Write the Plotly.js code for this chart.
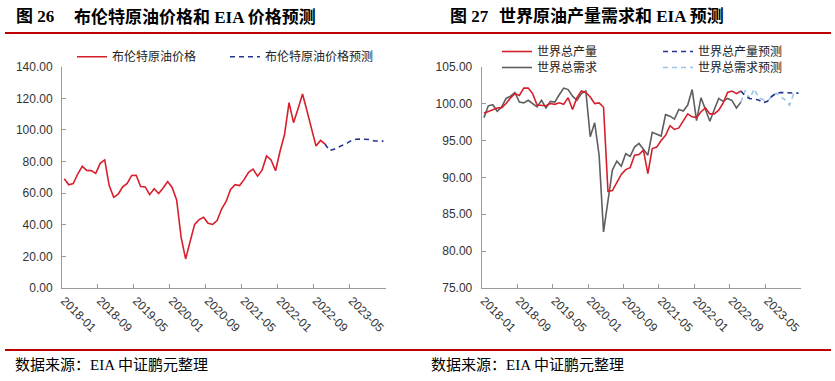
<!DOCTYPE html>
<html>
<head>
<meta charset="utf-8">
<script src="https://cdn.plot.ly/plotly-3.0.1.min.js"></script>
<style>html,body{margin:0;padding:0;background:#fff;}#chart{width:835px;height:381px;}</style>
</head>
<body>
<div id="chart"></div>
<script>
// Month categories 2018-01 .. 2023-12
var months = [];
for (var yr = 2018; yr <= 2023; yr++) {
  for (var mo = 1; mo <= 12; mo++) {
    months.push(yr + '-' + (mo < 10 ? '0' + mo : mo));
  }
}

// Left chart: Brent price (actual 2018-01..2022-11) and EIA forecast (2022-11..2023-12)
var brentActual = [
  69.08, 65.32, 66.02, 72.11, 76.98, 74.41, 74.25, 72.53, 78.89, 81.03, 64.75, 57.36,
  59.41, 63.96, 66.14, 71.23, 71.32, 64.22, 63.92, 59.04, 62.83, 59.71, 63.21, 67.31,
  63.65, 55.66, 32.01, 18.38, 29.38, 40.27, 43.24, 44.74, 40.91, 40.19, 42.69, 49.99,
  54.77, 62.28, 65.41, 64.81, 68.53, 73.16, 75.17, 70.75, 74.49, 83.54, 81.05, 74.17,
  86.51, 97.13, 117.25, 104.58, 113.34, 122.71, 111.93, 100.45, 89.76, 93.33, 91.1
];
var brentForecast = [91.1, 86.9, 87.8, 89.0, 90.3, 91.8, 93.5, 94.1, 94.2, 94.2, 93.9, 93.0, 92.9, 92.9];

// Right chart: world production / demand (actual) and EIA forecasts
var prodActual = [
  98.7, 98.96, 99.2, 99.4, 99.45, 100.0, 100.77, 101.35, 101.1, 102.1, 102.1, 101.35,
  99.8, 99.7, 99.7, 100.0, 99.9, 100.1, 99.9, 100.8, 99.2, 100.8, 101.7, 101.5,
  100.9, 100.0, 100.1, 99.5, 88.1, 88.2, 89.4, 90.4, 91.05, 91.3, 93.0, 93.1,
  93.7, 90.5, 93.9, 94.1, 95.0, 95.7, 97.0, 96.5, 96.7, 97.7, 98.6, 98.2,
  98.1, 98.9, 99.4, 98.6, 98.6, 99.1, 100.1, 101.5, 101.7, 101.35, 101.7
];
var demandActual = [
  98.1, 99.7, 99.85, 98.96, 99.55, 100.7, 101.0, 101.5, 100.2, 100.1, 100.45, 100.0,
  99.55, 100.45, 99.4, 100.3, 100.2, 101.2, 102.1, 101.9, 101.0, 100.45, 101.35, 101.7,
  95.5, 97.4, 93.0, 82.6, 87.1, 91.0, 92.2, 91.5, 93.2, 92.85, 94.1, 94.6,
  93.8, 93.0, 96.1, 95.9, 95.6, 98.5, 98.3, 97.9, 99.2, 99.0, 99.8, 101.9,
  97.7, 100.8, 99.1, 97.6, 99.2, 100.7, 100.3, 100.7, 100.4, 99.4, 100.2
];
var prodForecast = [101.7, 101.0, 100.7, 100.6, 100.5, 100.1, 100.3, 101.0, 101.4, 101.5, 101.5, 101.5, 101.5, 101.4];
var demandForecast = [100.2, 101.8, 100.6, 102.0, 100.8, 100.5, 100.3, 101.0, 101.4, 100.9, 100.5, 99.8, 101.5, 101.4];

var legendNames = ['布伦特原油价格', '布伦特原油价格预测', '世界总产量', '世界总产量预测', '世界总需求', '世界总需求预测'];

var RED = '#d71f2b', NAVY = '#23348f', GRAY = '#5e5e5e', LBLUE = '#9cc3e8';
var fcStart = brentActual.length - 1;

var traces = [
  {x: months.slice(0, brentActual.length), y: brentActual, name: legendNames[0], type: 'scatter', mode: 'lines',
   line: {color: RED, width: 1.6}, xaxis: 'x', yaxis: 'y', legend: 'legend'},
  {x: months.slice(fcStart, fcStart + brentForecast.length), y: brentForecast, name: legendNames[1], type: 'scatter', mode: 'lines',
   line: {color: NAVY, width: 1.6, dash: '5px,4px'}, xaxis: 'x', yaxis: 'y', legend: 'legend'},
  {x: months.slice(0, demandActual.length), y: demandActual, name: legendNames[4], type: 'scatter', mode: 'lines',
   line: {color: GRAY, width: 1.6}, xaxis: 'x2', yaxis: 'y2', legend: 'legend3', legendrank: 1},
  {x: months.slice(fcStart, fcStart + demandForecast.length), y: demandForecast, name: legendNames[5], type: 'scatter', mode: 'lines',
   line: {color: LBLUE, width: 1.6, dash: '5px,4px'}, xaxis: 'x2', yaxis: 'y2', legend: 'legend3', legendrank: 2},
  {x: months.slice(0, prodActual.length), y: prodActual, name: legendNames[2], type: 'scatter', mode: 'lines',
   line: {color: RED, width: 1.6}, xaxis: 'x2', yaxis: 'y2', legend: 'legend2', legendrank: 1},
  {x: months.slice(fcStart, fcStart + prodForecast.length), y: prodForecast, name: legendNames[3], type: 'scatter', mode: 'lines',
   line: {color: NAVY, width: 1.6, dash: '5px,4px'}, xaxis: 'x2', yaxis: 'y2', legend: 'legend2', legendrank: 2}
];

var W = 835, H = 381;
function px(x) { return x / W; }
function py(y) { return 1 - y / H; }

var tickFont = {family: 'Liberation Sans, Arial, sans-serif', size: 12, color: '#333'};
var legFont = {family: 'Noto Sans CJK SC, sans-serif', size: 12, color: '#222'};

function xax(d0, d1, anchor) {
  return {domain: [px(d0), px(d1)], anchor: anchor, type: 'category', range: [-0.5, 71.5],
    tickmode: 'linear', tick0: 0, dtick: 8, tickson: 'boundaries',
    ticks: 'inside', ticklen: 4, tickcolor: '#9a9a9a', tickwidth: 1,
    showline: true, linecolor: '#9a9a9a', linewidth: 1, showgrid: false, zeroline: false,
    tickangle: 45, tickfont: tickFont, fixedrange: true};
}
function yax(r, dt, anchor) {
  return {domain: [py(288), py(66.7)], anchor: anchor, range: r, dtick: dt, tick0: r[0], tickformat: '.2f',
    ticks: 'inside', ticklen: 4, tickcolor: '#9a9a9a', tickwidth: 1,
    showline: true, linecolor: '#9a9a9a', linewidth: 1, showgrid: false, zeroline: false,
    tickfont: tickFont, ticklabelstandoff: 6, fixedrange: true};
}

var titleFont = {family: 'Liberation Serif, Noto Sans CJK SC, serif', size: 17, color: '#000', weight: 'bold'};
var srcFont = {family: 'Liberation Serif, Noto Sans CJK SC, serif', size: 15, color: '#000'};

function ann(text, x, y, font) {
  return {text: text, x: px(x), y: py(y), xref: 'paper', yref: 'paper', xanchor: 'left', yanchor: 'middle',
    showarrow: false, font: font};
}

var layout = {
  width: W, height: H, margin: {l: 0, r: 0, t: 0, b: 0},
  paper_bgcolor: '#fff', plot_bgcolor: '#fff',
  xaxis: xax(62, 385.7, 'y'),
  yaxis: yax([0, 140], 20, 'x'),
  xaxis2: xax(481.7, 800.7, 'y2'),
  yaxis2: yax([75, 105], 5, 'x2'),
  legend: {orientation: 'h', x: px(72), xanchor: 'left', y: py(56.7), yanchor: 'middle',
    entrywidth: 108, entrywidthmode: 'pixels', font: legFont, bgcolor: 'rgba(0,0,0,0)', borderwidth: 0},
  legend2: {orientation: 'h', x: px(497), xanchor: 'left', y: py(51.5), yanchor: 'middle',
    entrywidth: 116, entrywidthmode: 'pixels', font: legFont, bgcolor: 'rgba(0,0,0,0)', borderwidth: 0},
  legend3: {orientation: 'h', x: px(497), xanchor: 'left', y: py(67.5), yanchor: 'middle',
    entrywidth: 116, entrywidthmode: 'pixels', font: legFont, bgcolor: 'rgba(0,0,0,0)', borderwidth: 0},
  shapes: [
    {type: 'line', xref: 'paper', yref: 'paper', x0: px(5), x1: px(831), y0: py(33), y1: py(33), line: {color: '#c00000', width: 2}},
    {type: 'line', xref: 'paper', yref: 'paper', x0: px(5), x1: px(831), y0: py(350), y1: py(350), line: {color: '#c00000', width: 2}}
  ],
  annotations: [
    ann('图 26', 14, 16.5, titleFont),
    ann('布伦特原油价格和 EIA 价格预测', 72, 16.5, titleFont),
    ann('图 27', 448, 16.5, titleFont),
    ann('世界原油产量需求和 EIA 预测', 497, 16.5, titleFont),
    ann('数据来源：EIA 中证鹏元整理', 13, 365, srcFont),
    ann('数据来源：EIA 中证鹏元整理', 429, 365, srcFont)
  ],
  showlegend: true
};

Plotly.newPlot('chart', traces, layout, {displayModeBar: false, staticPlot: true});
</script>
</body>
</html>
